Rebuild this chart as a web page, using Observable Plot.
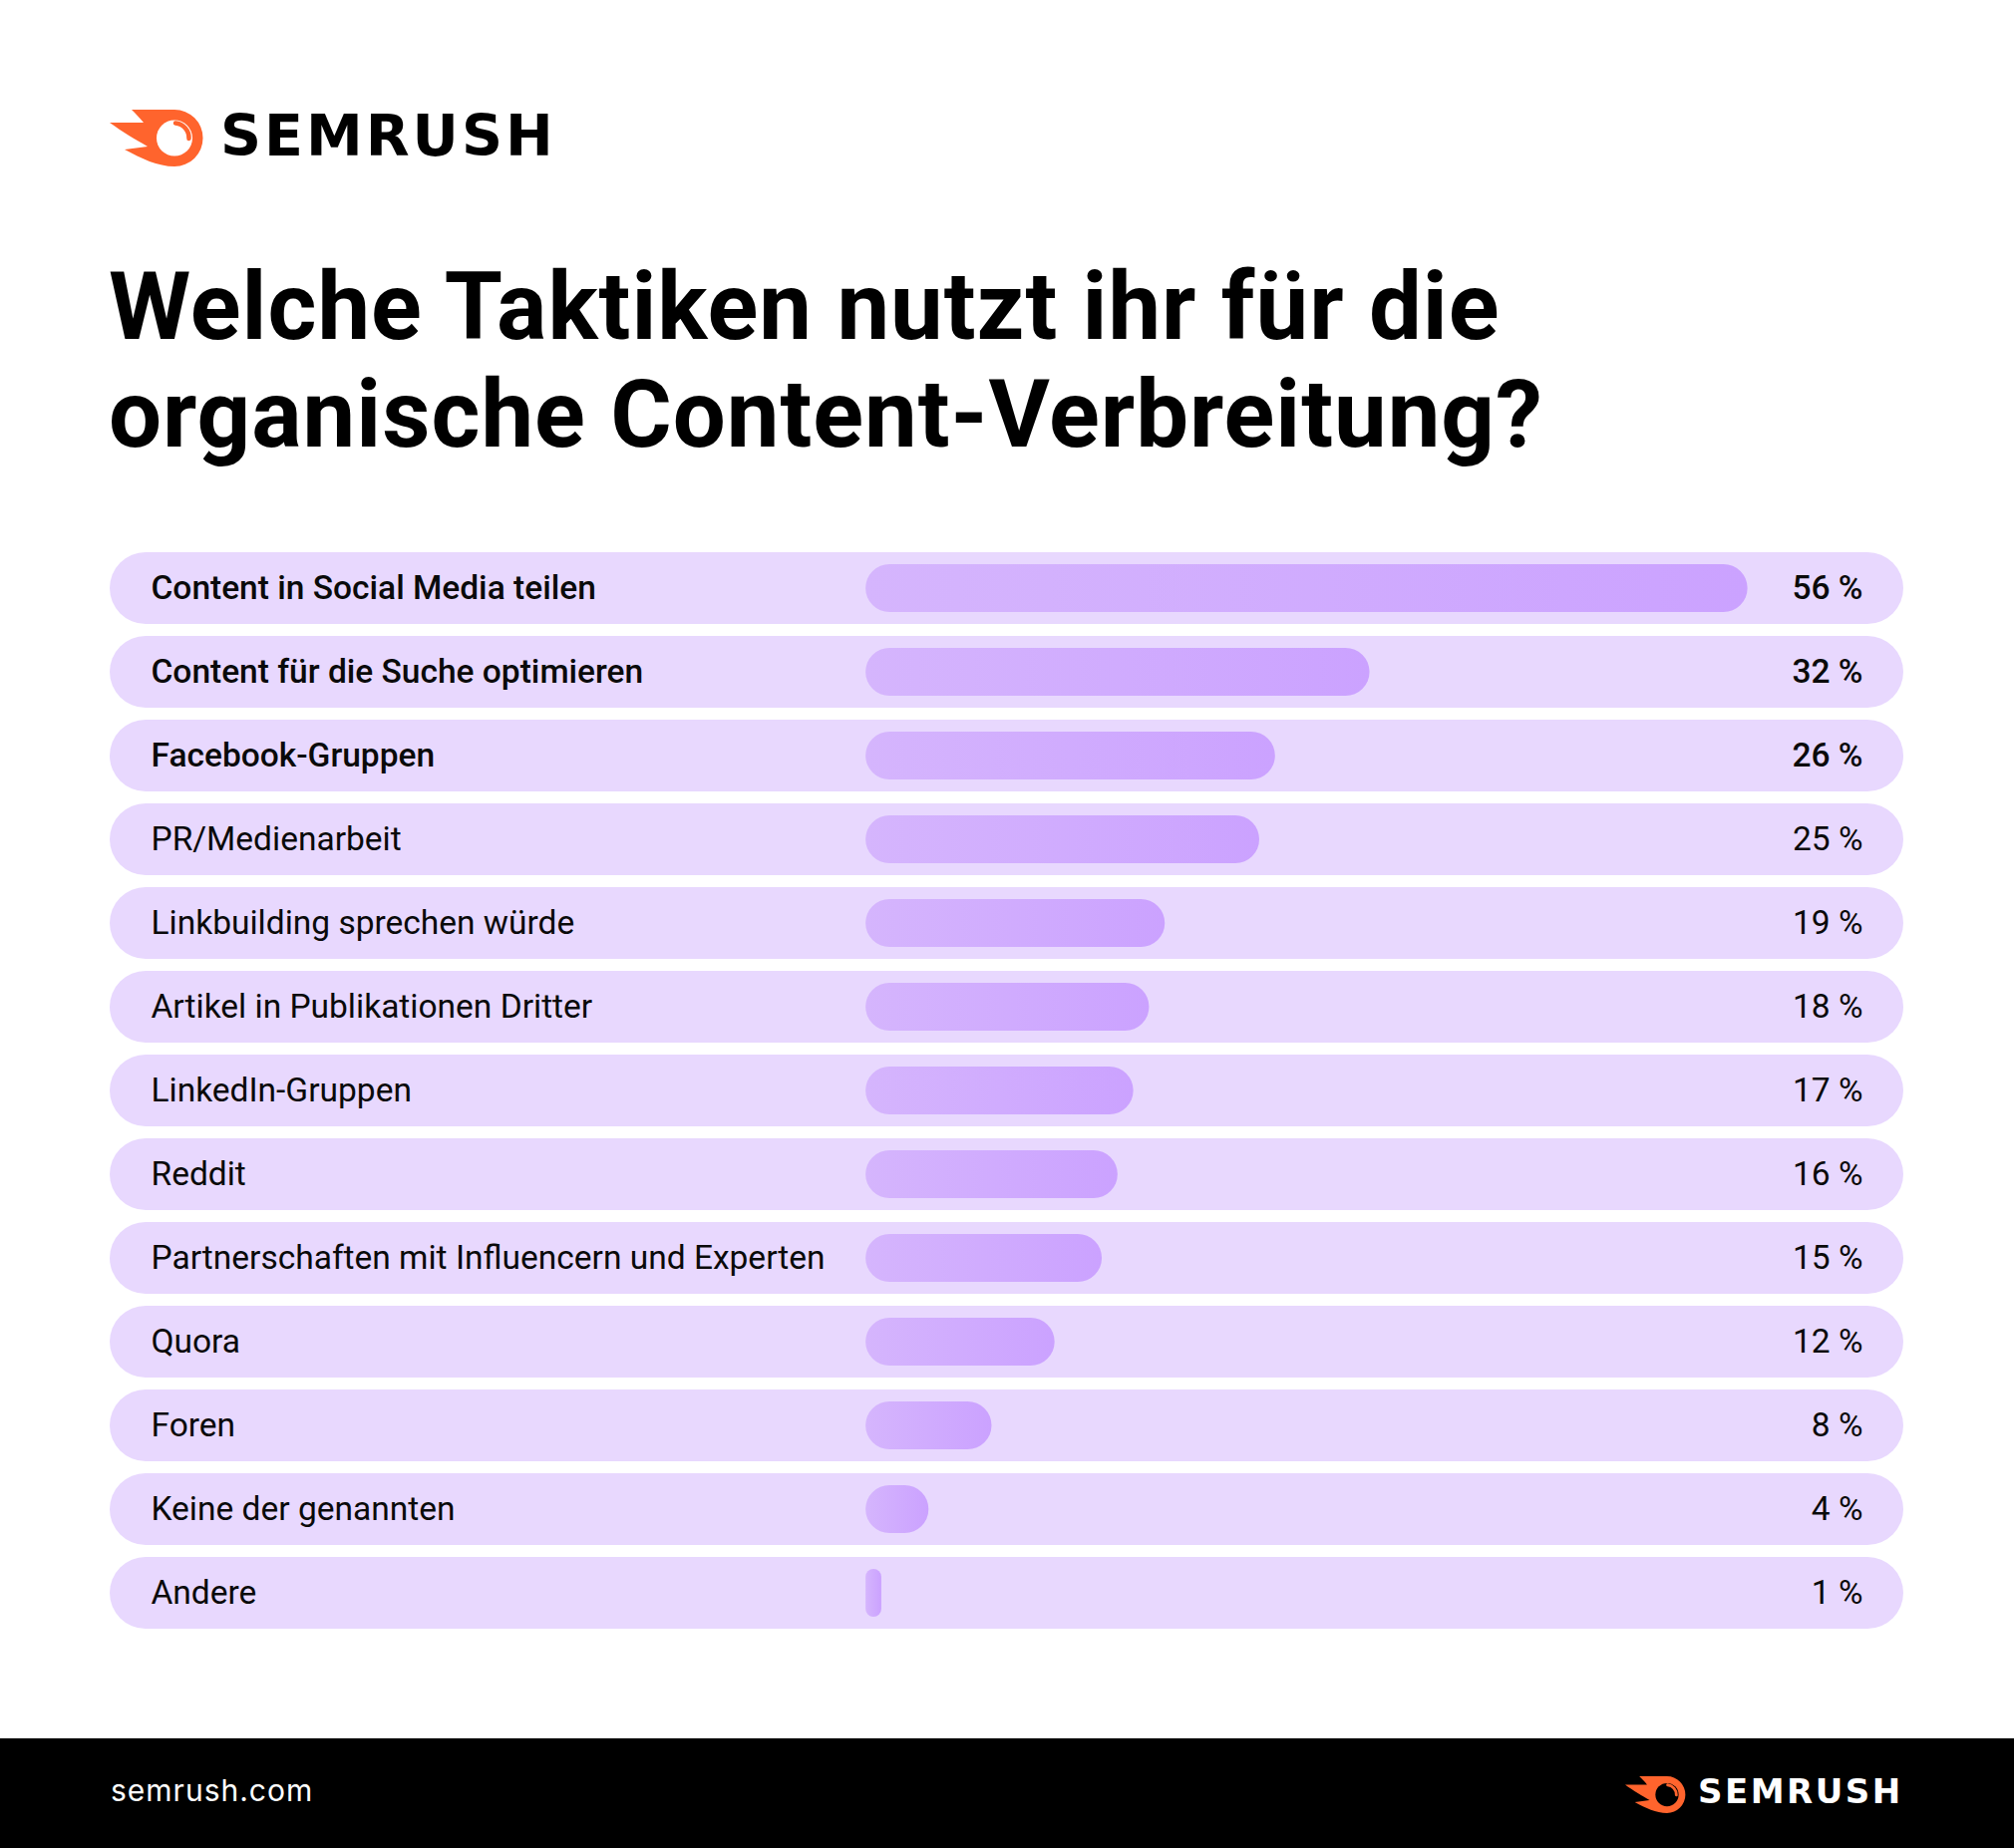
<!DOCTYPE html>
<html>
<head>
<meta charset="utf-8">
<script src="https://cdn.jsdelivr.net/npm/d3@7"></script>
<script src="https://cdn.jsdelivr.net/npm/@observablehq/plot@0.6"></script>
<style>
  html, body { margin: 0; padding: 0; background: #fff; }
  body { width: 2020px; height: 1854px; position: relative; overflow: hidden; font-family: Roboto, "Noto Sans", sans-serif; }
  #header { position: relative; height: 530px; }
  #logo { position: absolute; left: 110px; top: 110px; }
  #logoText { position: absolute; left: 221px; top: 96px; font-family: "DejaVu Sans", sans-serif; font-weight: 700; font-size: 57px; letter-spacing: 3px; color: #000; line-height: 80px; }
  #title { position: absolute; left: 109px; top: 254px; margin: 0; font-family: Roboto, sans-serif; font-weight: 700; font-size: 94px; line-height: 108px; color: #000; letter-spacing: 1px; }
  #chart { height: 1130px; }
  #footer { position: absolute; left: 0; top: 1744px; width: 2020px; height: 110px; background: #000; }
  #site { position: absolute; left: 111px; top: 34px; color: #fff; font-family: Inter, sans-serif; font-size: 30px; letter-spacing: 1px; font-weight: 400; }
  #flogo { position: absolute; left: 1630px; top: 38px; }
  #flogoText { position: absolute; left: 1703px; top: 28px; font-family: "DejaVu Sans", sans-serif; font-weight: 700; font-size: 34px; letter-spacing: 2.5px; color: #fff; line-height: 50px; }
</style>
</head>
<body>
<div id="header">
  <svg id="logo" width="96" height="57" viewBox="0 0 96 57">
    <path d="M22,0 L65,0 A28.5,28.5 0 0 1 65,57 C48,57 32,49 15,40 L38,37 C28,31 12,22 0,13 L34,13 C30,8 26,4 22,0 Z" fill="#FF642D"/>
    <circle cx="65" cy="28.5" r="18" fill="#fff"/>
    <path d="M66,13.5 A15,15 0 0 1 79.5,29" fill="none" stroke="#FF642D" stroke-width="4.5" stroke-linecap="round"/>
  </svg>
  <div id="logoText">SEMRUSH</div>
  <h1 id="title">Welche Taktiken nutzt ihr für die<br>organische Content-Verbreitung?</h1>
</div>
<div id="chart"></div>
<div id="footer">
  <div id="site">semrush.com</div>
  <svg id="flogo" width="62" height="37" viewBox="0 0 96 57">
    <path d="M22,0 L65,0 A28.5,28.5 0 0 1 65,57 C48,57 32,49 15,40 L38,37 C28,31 12,22 0,13 L34,13 C30,8 26,4 22,0 Z" fill="#FF642D"/>
    <circle cx="65" cy="28.5" r="18" fill="#000"/>
    <path d="M66,13.5 A15,15 0 0 1 79.5,29" fill="none" stroke="#FF642D" stroke-width="4.5" stroke-linecap="round"/>
  </svg>
  <div id="flogoText">SEMRUSH</div>
</div>
<script>
// ---- data ----
const categories = [
  "Content in Social Media teilen",
  "Content für die Suche optimieren",
  "Facebook-Gruppen",
  "PR/Medienarbeit",
  "Linkbuilding sprechen würde",
  "Artikel in Publikationen Dritter",
  "LinkedIn-Gruppen",
  "Reddit",
  "Partnerschaften mit Influencern und Experten",
  "Quora",
  "Foren",
  "Keine der genannten",
  "Andere"
];
const values = [56, 32, 26, 25, 19, 18, 17, 16, 15, 12, 8, 4, 1];
const valueLabels = ["56 %", "32 %", "26 %", "25 %", "19 %", "18 %", "17 %", "16 %", "15 %", "12 %", "8 %", "4 %", "1 %"];
const highlighted = ["Content in Social Media teilen", "Content für die Suche optimieren", "Facebook-Gruppen"];

const data = categories.map((c, i) => ({label: c, value: values[i], valueLabel: valueLabels[i], bold: highlighted.includes(c)}));

const X_DOMAIN = [-48, 65.9];

const chart = Plot.plot({
  width: 2020,
  height: 1130,
  marginTop: 18,
  marginBottom: 20,
  marginLeft: 110,
  marginRight: 111,
  x: {domain: X_DOMAIN, axis: null},
  y: {domain: categories, axis: null, padding: 0},
  style: {background: "transparent", fontFamily: "Roboto, sans-serif", color: "#000"},
  marks: [
    Plot.barX(categories, {x1: X_DOMAIN[0], x2: X_DOMAIN[1], y: d => d, fill: "#E8D8FE", insetTop: 6, insetBottom: 6, rx: 36}),
    Plot.barX(data, {x: "value", y: "label", fill: "#CFA8FE", insetTop: 18, insetBottom: 18}),
    Plot.text(data.filter(d => d.bold), {x: X_DOMAIN[0], y: "label", text: "label", textAnchor: "start", dx: 41, fontSize: 33.5, fontWeight: 500, fill: "#0a0a0a"}),
    Plot.text(data.filter(d => !d.bold), {x: X_DOMAIN[0], y: "label", text: "label", textAnchor: "start", dx: 41, fontSize: 33.5, fontWeight: 400, fill: "#0a0a0a"}),
    Plot.text(data.filter(d => d.bold), {x: X_DOMAIN[1], y: "label", text: "valueLabel", textAnchor: "end", dx: -41, fontSize: 33.5, fontWeight: 500, fill: "#0a0a0a"}),
    Plot.text(data.filter(d => !d.bold), {x: X_DOMAIN[1], y: "label", text: "valueLabel", textAnchor: "end", dx: -41, fontSize: 33.5, fontWeight: 400, fill: "#0a0a0a"})
  ]
});
document.getElementById("chart").appendChild(chart);

// gradient + pill shapes
const svg = d3.select(chart);
const defs = svg.insert("defs", ":first-child");
const grad = defs.append("linearGradient").attr("id", "barGrad").attr("x1", "0").attr("x2", "1").attr("y1", "0").attr("y2", "0");
grad.append("stop").attr("offset", "0").attr("stop-color", "#D5B5FD");
grad.append("stop").attr("offset", "1").attr("stop-color", "#CBA2FF");
svg.selectAll("rect").each(function() {
  const r = d3.select(this);
  const w = +r.attr("width"), h = +r.attr("height");
  if (!isFinite(w) || !isFinite(h)) return;
  const rad = Math.min(w, h) / 2;
  r.attr("rx", rad).attr("ry", rad);
  if (h < 60) r.attr("fill", "url(#barGrad)");
});
</script>
</body>
</html>
